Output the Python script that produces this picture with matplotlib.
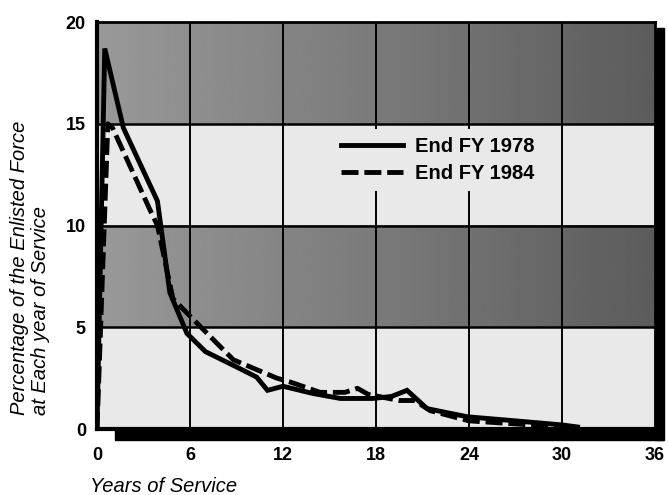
import numpy as np
import matplotlib
matplotlib.use("Agg")
import matplotlib.pyplot as plt
from matplotlib.patches import Rectangle
from matplotlib.lines import Line2D

# ---- data ----
years_1978 = [0, 0.5, 1.7, 3.9, 4.7, 5.8, 7, 9, 10.3, 11, 12, 13.9, 15.7, 17.8, 19, 20, 21.3, 23.9, 27, 30, 31]
pct_1978 = [0, 18.7, 14.8, 11.2, 6.7, 4.7, 3.8, 3.05, 2.55, 1.9, 2.1, 1.75, 1.5, 1.5, 1.6, 1.9, 1.0, 0.6, 0.4, 0.2, 0.1]

years_1984 = [0, 0.7, 1.0, 3.4, 3.9, 4.9, 7.1, 8.8, 11.6, 12.5, 14.4, 16.0, 16.8, 17.5, 19.5, 20.5, 21.5, 24, 26, 30]
pct_1984 = [0, 15.0, 14.8, 10.8, 10.0, 6.4, 4.7, 3.4, 2.5, 2.3, 1.8, 1.8, 2.0, 1.7, 1.4, 1.4, 0.9, 0.4, 0.3, 0.1]

labels = ["End FY 1978", "End FY 1984"]
x_ticks = [0, 6, 12, 18, 24, 30, 36]
y_ticks = [0, 5, 10, 15, 20]
x_label = "Years of Service"
y_label = "Percentage of the Enlisted Force\nat Each year of Service"

LW = 3.5
DASH = (3.5, 1.2)
LIGHT = "#e9e9e9"

fig = plt.figure(figsize=(6.68, 4.95), dpi=100)
fig.patch.set_facecolor("white")
ax = fig.add_axes([97/668, 1-429/495, (655-97)/668, (429-22)/495])

# shadow (decoration)
fig.patches.append(Rectangle((115/668, 1-440/495), (663-115)/668, 10/495,
                             transform=fig.transFigure, color="black", zorder=0))
fig.patches.append(Rectangle((655/668, 1-440/495), 9/668, (440-28)/495,
                             transform=fig.transFigure, color="black", zorder=0))

# banded background
ax.set_facecolor(LIGHT)
grad = np.linspace(0.60, 0.36, 200).reshape(1, -1)
for lo, hi in [(5, 10), (15, 20)]:
    ax.imshow(grad, cmap="gray", vmin=0, vmax=1, aspect="auto",
              extent=[0, 36, lo, hi], zorder=0.5, interpolation="bilinear")
ax.set_xlim(0, 36)
ax.set_ylim(0, 20)

# grid
for xv in x_ticks[1:-1]:
    ax.axvline(xv, color="black", lw=1.4, zorder=1)
for yv in y_ticks[1:-1]:
    ax.axhline(yv, color="black", lw=1.8, zorder=1)

ax.plot(years_1978, pct_1978, color="black", lw=LW, solid_joinstyle="miter", zorder=3)
ax.plot(years_1984, pct_1984, color="black", lw=LW, dashes=DASH, zorder=3)

for s in ax.spines.values():
    s.set_color("black")
    s.set_linewidth(2.0)
ax.spines["left"].set_linewidth(3)
ax.spines["bottom"].set_linewidth(3)

ax.set_xticks(x_ticks)
ax.set_yticks(y_ticks)
ax.tick_params(axis="y", length=0, pad=8)
ax.tick_params(axis="x", length=0, pad=13)
for lab in ax.get_xticklabels() + ax.get_yticklabels():
    lab.set_fontfamily("Liberation Sans")
    lab.set_fontweight("bold")
    lab.set_fontsize(13)

handles = [Line2D([], [], color="black", lw=LW),
           Line2D([], [], color="black", lw=LW, dashes=DASH)]
leg = ax.legend(handles, labels, loc="upper left", bbox_to_anchor=(0.4227, 0.738),
                frameon=True, fancybox=False, facecolor=LIGHT, edgecolor="none",
                framealpha=1.0, handlelength=3.1, handletextpad=0.6, labelspacing=0.4,
                borderpad=0.4, borderaxespad=0,
                prop={"family": "Liberation Sans", "weight": "bold", "size": 14.5})
leg.set_zorder(4)

fig.text(10/668, 1-415/495, y_label, rotation=90, ha="left", va="top",
         multialignment="left", rotation_mode="anchor",
         fontfamily="Liberation Sans", fontstyle="italic", fontsize=14.5, linespacing=1.1)
fig.text(90/668, 1-486/495, x_label, ha="left", va="center",
         fontfamily="Liberation Sans", fontstyle="italic", fontsize=14.5)

fig.savefig("out.png", dpi=100)
